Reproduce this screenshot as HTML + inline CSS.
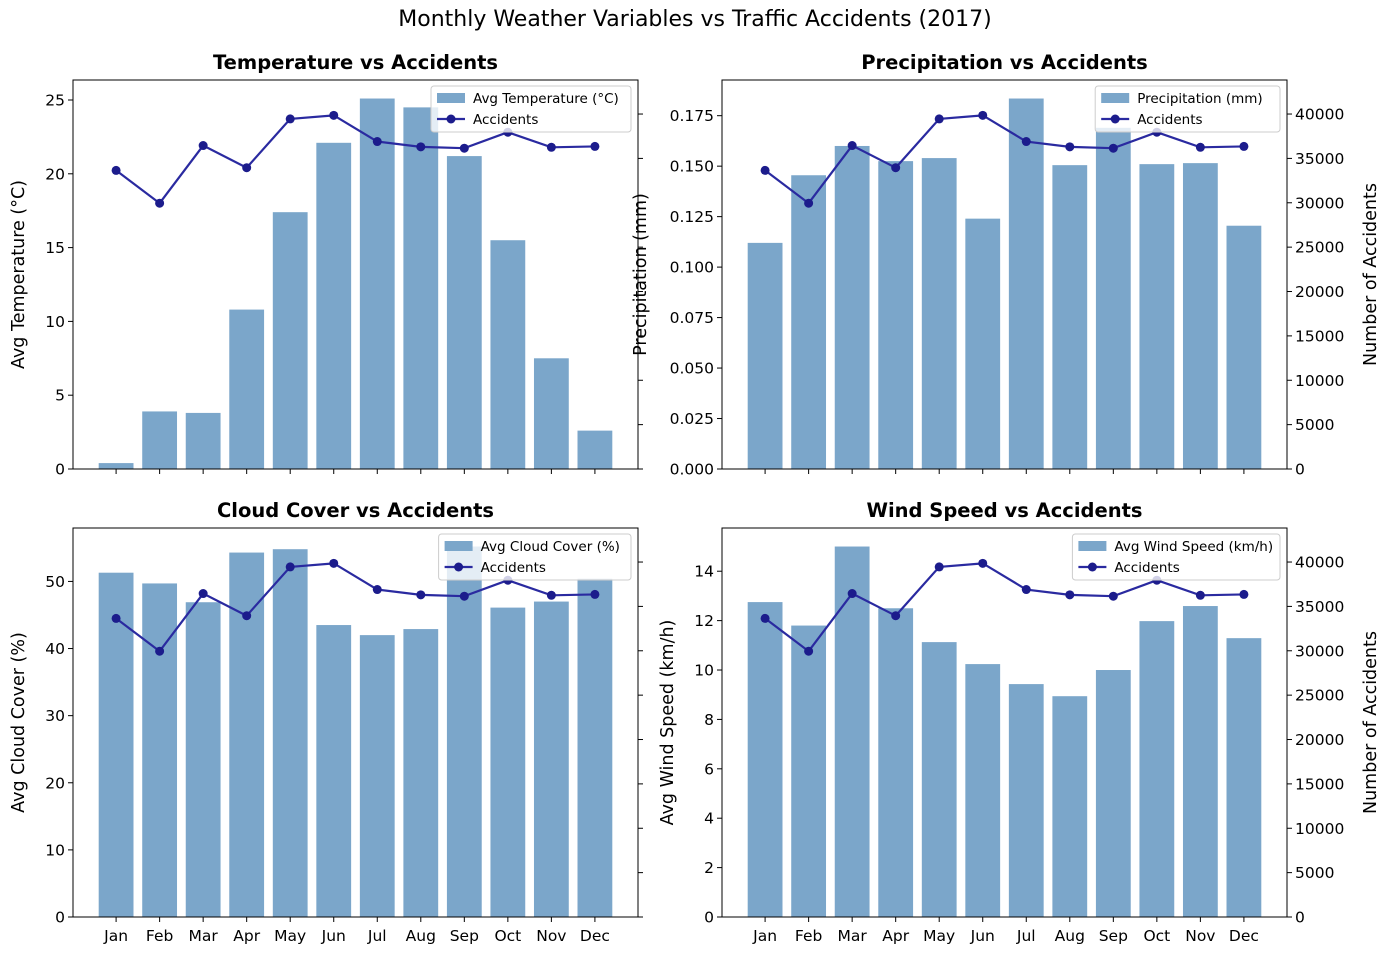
<!DOCTYPE html>
<html><head><meta charset="utf-8"><style>
body{margin:0;background:#fff;font-family:"Liberation Sans","DejaVu Sans",sans-serif}
svg text{font-family:"DejaVu Sans","Liberation Sans",sans-serif}
</style></head><body>
<svg id="chart" width="1390" height="955" xmlns="http://www.w3.org/2000/svg">
<text x="695" y="26" text-anchor="middle" font-size="22">Monthly Weather Variables vs Traffic Accidents (2017)</text>
</svg>
<script>
const months=["Jan","Feb","Mar","Apr","May","Jun","Jul","Aug","Sep","Oct","Nov","Dec"];
const accidents=[33650,29950,36450,33950,39450,39850,36900,36300,36150,37950,36250,36350];
const temperature=[0.4,3.9,3.8,10.8,17.4,22.1,25.1,24.5,21.2,15.5,7.5,2.6];
const precipitation=[0.112,0.1455,0.160,0.1525,0.154,0.124,0.1835,0.1505,0.169,0.151,0.1515,0.1205];
const cloudCover=[51.3,49.7,46.9,54.3,54.8,43.5,42.0,42.9,55.2,46.1,47.0,50.4];
const windSpeed=[12.75,11.8,15.0,12.5,11.13,10.24,9.43,8.94,10.0,11.98,12.59,11.29];
const tempTicks=[0,5,10,15,20,25];
const precipTicks=[0,0.025,0.05,0.075,0.1,0.125,0.15,0.175];
const cloudTicks=[0,10,20,30,40,50];
const windTicks=[0,2,4,6,8,10,12,14];
const accTicks=[0,5000,10000,15000,20000,25000,30000,35000,40000];

const svg=document.getElementById('chart');
const NS="http://www.w3.org/2000/svg";
function mk(tag,attrs,parent){const e=document.createElementNS(NS,tag);for(const k in attrs)e.setAttribute(k,attrs[k]);(parent||svg).appendChild(e);return e;}

const panels=[
 {key:"temperature",x0:73,y0:80,title:"Temperature vs Accidents",vals:temperature,ticks:tempTicks,fmt:v=>v.toString(),ylabel:"Avg Temperature (°C)",lo:49,leg:"Avg Temperature (°C)",rightLabels:false,xLabels:false},
 {key:"precipitation",x0:722,y0:80,title:"Precipitation vs Accidents",vals:precipitation,ticks:precipTicks,fmt:v=>v.toFixed(3),ylabel:"Precipitation (mm)",lo:76,leg:"Precipitation (mm)",rightLabels:true,xLabels:false},
 {key:"cloud",x0:73,y0:528,title:"Cloud Cover vs Accidents",vals:cloudCover,ticks:cloudTicks,fmt:v=>v.toString(),ylabel:"Avg Cloud Cover (%)",lo:49,leg:"Avg Cloud Cover (%)",rightLabels:false,xLabels:true},
 {key:"wind",x0:722,y0:528,title:"Wind Speed vs Accidents",vals:windSpeed,ticks:windTicks,fmt:v=>v.toString(),ylabel:"Avg Wind Speed (km/h)",lo:49,leg:"Avg Wind Speed (km/h)",rightLabels:true,xLabels:true}
];
const W=565,H=389;
panels.forEach(p=>{
 const g=mk('g',{});
 
 
 const maxV=Math.max(...p.vals)*1.05;
 const yL=v=>p.y0+H-v/maxV*H;
 const accMax=Math.max(...accidents)*1.1;
 const yR=v=>p.y0+H-v/accMax*H;
 const xmin=-0.99,xmax=11.99;
 const xs=i=>p.x0+(i-xmin)/(xmax-xmin)*W;
 p.vals.forEach((v,i)=>{
  const b=mk('rect',{x:xs(i)-17.4,y:yL(v),width:34.8,height:p.y0+H-yL(v),fill:'#7ba6ca'},g);
  
  
 });
 const pts=accidents.map((v,i)=>xs(i)+','+yR(v)).join(' ');
 const ln=mk('polyline',{points:pts,fill:'none',stroke:'#2a2aa0',"stroke-width":2.2},g);
 
 
 accidents.forEach((v,i)=>{
  const c=mk('circle',{cx:xs(i),cy:yR(v),r:4.5,fill:'#1c1c8c'},g);
  
  
 });
 mk('rect',{x:p.x0,y:p.y0,width:W,height:H,fill:'none',stroke:'#000',"stroke-width":1},g);
 p.ticks.forEach(t=>{
  const y=yL(t);
  mk('line',{x1:p.x0-5,x2:p.x0,y1:y,y2:y,stroke:'#000'},g);
  const tx=mk('text',{x:p.x0-8,y:y+5.5,"text-anchor":"end","font-size":15.5},g);tx.textContent=p.fmt(t);
  
  
 });
 accTicks.forEach(t=>{
  const y=yR(t);
  mk('line',{x1:p.x0+W,x2:p.x0+W+5,y1:y,y2:y,stroke:'#000'},g);
  if(p.rightLabels){const tx=mk('text',{x:p.x0+W+8,y:y+5.5,"font-size":15.5},g);tx.textContent=t;
  
  }
 });
 months.forEach((m,i)=>{
  mk('line',{x1:xs(i),x2:xs(i),y1:p.y0+H,y2:p.y0+H+5,stroke:'#000'},g);
  if(p.xLabels){const tx=mk('text',{x:xs(i),y:p.y0+H+24,"text-anchor":"middle","font-size":15.5},g);tx.textContent=m;
  
  }
 });
 const tt=mk('text',{x:p.x0+W/2,y:p.y0-11,"text-anchor":"middle","font-size":19.5,"font-weight":"bold"},g);tt.textContent=p.title;
 
 
 const yl=mk('text',{transform:`translate(${p.x0-p.lo},${p.y0+H/2}) rotate(-90)`,"text-anchor":"middle","font-size":17.5},g);yl.textContent=p.ylabel;
 
 
 if(p.rightLabels){const yr=mk('text',{transform:`translate(${p.x0+W+89},${p.y0+H/2}) rotate(-90)`,"text-anchor":"middle","font-size":17.5},g);yr.textContent="Number of Accidents";
 
 }
 const lw=p.leg.length*7.6+48, lx=p.x0+W-7-lw, ly=p.y0+6;
 const lg=mk('g',{},g);
 
 
 mk('rect',{x:lx,y:ly,width:lw,height:46,rx:3,fill:'#fff',"fill-opacity":0.8,stroke:'#ccc'},lg);
 mk('rect',{x:lx+6,y:ly+7,width:28,height:10,fill:'#7ba6ca'},lg);
 const t1=mk('text',{x:lx+42,y:ly+17,"font-size":13.5},lg);t1.textContent=p.leg;
 mk('line',{x1:lx+6,x2:lx+34,y1:ly+33,y2:ly+33,stroke:'#2a2aa0',"stroke-width":2.2},lg);
 mk('circle',{cx:lx+20,cy:ly+33,r:4.5,fill:'#1c1c8c'},lg);
 const t2=mk('text',{x:lx+42,y:ly+38,"font-size":13.5},lg);t2.textContent="Accidents";
});
</script>
</body></html>
